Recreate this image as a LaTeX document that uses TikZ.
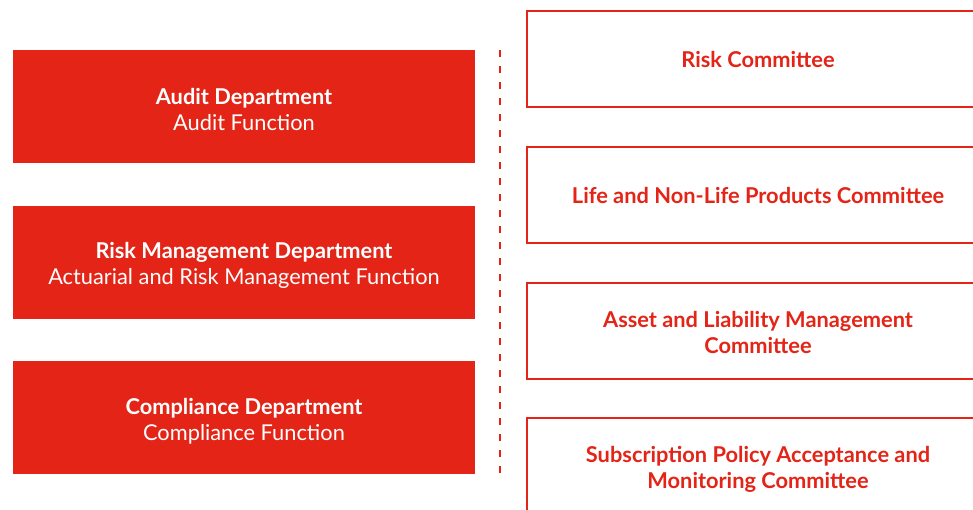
\documentclass[tikz,border=0pt]{standalone}
\usepackage{fontspec}
\setmainfont{Lato}
\definecolor{brand}{RGB}{227,36,22}
\begin{document}
\begin{tikzpicture}[x=1pt,y=-1pt,
  leftbox/.style={fill=brand,draw=none,minimum width=462pt,minimum height=113pt,inner sep=0pt},
  lefttext/.style={inner sep=0pt,text=white,align=center,font=\fontsize{21.8}{26}\selectfont},
  rightbox/.style={draw=brand,line width=2pt,fill=white,minimum width=462pt,minimum height=96pt,inner sep=0pt},
  righttext/.style={inner sep=0pt,text=brand,align=center,font=\fontsize{21.8}{26}\selectfont\bfseries},
  divider/.style={draw=brand,line width=2pt,dash pattern=on 7pt off 9pt}]
\useasboundingbox (0,0) rectangle (973,509);
\clip (0,0) rectangle (973,509);
\node[leftbox] (audit) at (244,106.5) {};
\node[lefttext] (auditT) at (244,109.5) {\textbf{Audit Department}\\Audit Function};
\node[leftbox] (risk) at (244,262.5) {};
\node[lefttext] (riskT) at (244,265.5) {\textbf{Risk Management Department}\\Actuarial and Risk Management Function};
\node[leftbox] (comp) at (244,417.5) {};
\node[lefttext] (compT) at (244,421.5) {\textbf{Compliance Department}\\Compliance Function};
\coordinate (dtop) at (500,50);
\coordinate (dbot) at (500,474);
\draw[divider] (dtop) -- (dbot);
\node[rightbox] (rc) at (758,59) {};
\node[righttext] (rcT) at (758,59) {Risk Committee};
\node[rightbox] (lnl) at (758,195) {};
\node[righttext] (lnlT) at (758,195) {Life and Non-Life Products Committee};
\node[rightbox] (alm) at (758,331) {};
\node[righttext] (almT) at (758,332) {Asset and Liability Management\\Committee};
\node[rightbox] (sub) at (758,466) {};
\node[righttext] (subT) at (758,469) {Subscription Policy Acceptance and\\Monitoring Committee};
\end{tikzpicture}
\end{document}
